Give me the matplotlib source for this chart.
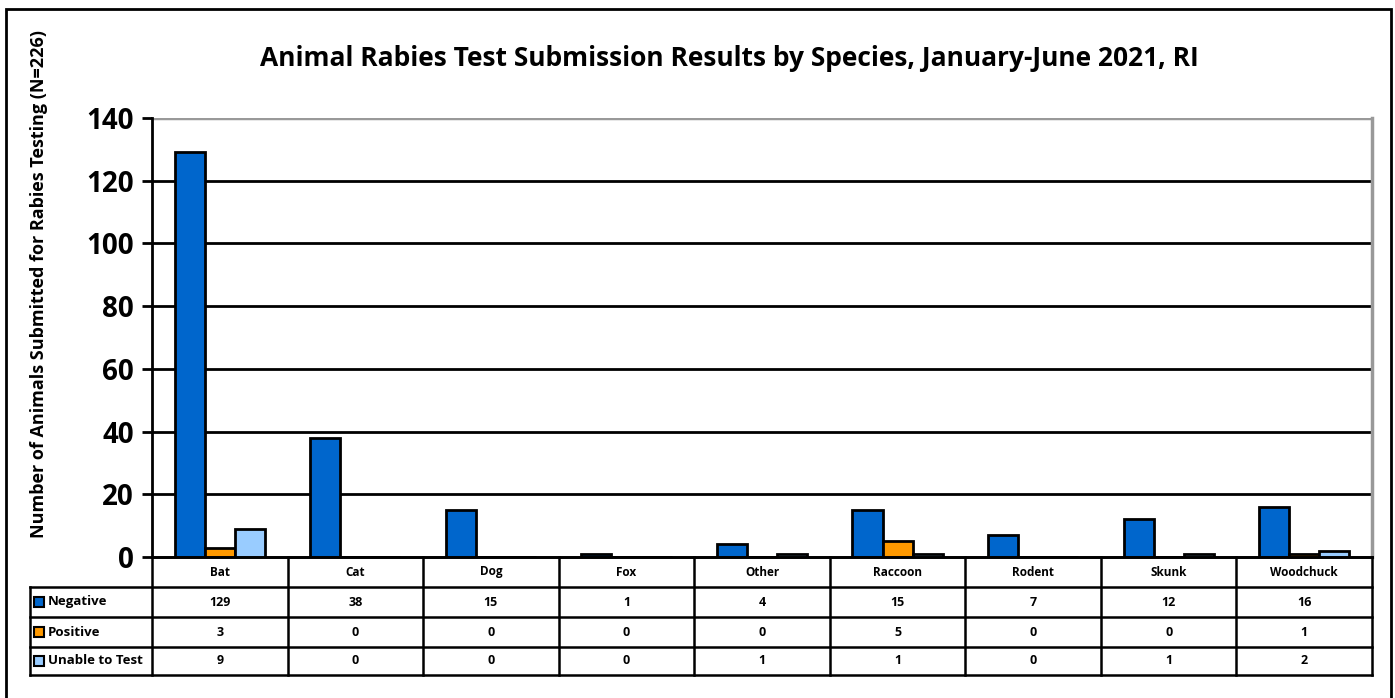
import numpy as np
import matplotlib.pyplot as plt
from matplotlib.lines import Line2D
from matplotlib.patches import Rectangle
import matplotlib.transforms as mtransforms

plt.rcParams['font.family'] = ['Open Sans', 'DejaVu Sans']

species = ['Bat', 'Cat', 'Dog', 'Fox', 'Other', 'Raccoon', 'Rodent', 'Skunk', 'Woodchuck']
negative = [129, 38, 15, 1, 4, 15, 7, 12, 16]
positive = [3, 0, 0, 0, 0, 5, 0, 0, 1]
unable = [9, 0, 0, 0, 1, 1, 0, 1, 2]

series_names = ['Negative', 'Positive', 'Unable to Test']
series_vals = [negative, positive, unable]
colors = ['#0066CC', '#FF9900', '#99CCFF']

W, H = 1395, 698
fig = plt.figure(figsize=(W / 100, H / 100), dpi=100)

# plot area in pixels
L, R, T, B = 152, 1372, 118, 557
ax = fig.add_axes([L / W, 1 - B / H, (R - L) / W, (B - T) / H])

x = np.arange(len(species))
bw = 0.222
for i, (vals, c) in enumerate(zip(series_vals, colors)):
    ax.bar(x + (i - 1) * bw, vals, width=bw, color=c, edgecolor='black', linewidth=2, zorder=3)

ax.set_xlim(-0.5, len(species) - 0.5)
ax.set_ylim(0, 140)
ax.set_yticks(range(0, 141, 20))
ax.set_xticks([])
for y in range(20, 140, 20):
    ax.axhline(y, color='black', linewidth=2, zorder=1)
ax.axhline(140, color='#999999', linewidth=2.5, zorder=1)
for s in ['top', 'right']:
    ax.spines[s].set_color('#999999')
    ax.spines[s].set_linewidth(2.5)
ax.spines['left'].set_linewidth(2)
ax.spines['bottom'].set_linewidth(2)
ax.spines['top'].set_visible(False)
ax.tick_params(axis='y', length=7, width=2, labelsize=20, pad=6)
for lbl in ax.get_yticklabels():
    lbl.set_fontweight('bold')

ax.set_ylabel('Number of Animals Submitted for Rabies Testing (N=226)', fontsize=13,
              fontweight='bold', labelpad=0)
ax.yaxis.set_label_coords((48 - L) / (R - L), (B - 284) / (B - T), transform=ax.transAxes)

fig.text(729 / W, 1 - 58 / H, 'Animal Rabies Test Submission Results by Species, January-June 2021, RI',
         ha='center', va='center', fontsize=19, fontweight='bold')

# data table below the axis
tr = mtransforms.blended_transform_factory(ax.transData, fig.transFigure)
def fy(py):
    return 1 - py / H

rows_y = [557, 587, 617, 647, 675]
lw = 1.8
for yy in rows_y:
    if yy == 557:
        fig.add_artist(Line2D([-0.5, len(species) - 0.5], [fy(yy), fy(yy)], transform=tr, color='black', lw=lw))
    else:
        fig.add_artist(Line2D([30 / W, R / W], [fy(yy), fy(yy)], transform=fig.transFigure, color='black', lw=lw))
for k in range(len(species) + 1):
    fig.add_artist(Line2D([k - 0.5, k - 0.5], [fy(557), fy(675)], transform=tr, color='black', lw=lw))
fig.add_artist(Line2D([30 / W, 30 / W], [fy(587), fy(675)], transform=fig.transFigure, color='black', lw=lw))

for k, name in enumerate(species):
    fig.text(k, fy(572), name, transform=tr, ha='center', va='center', fontsize=8.5, fontweight='bold')
for r, (name, vals, c) in enumerate(zip(series_names, series_vals, colors)):
    yc = (rows_y[r + 1] + rows_y[r + 2]) / 2
    for k, v in enumerate(vals):
        fig.text(k, fy(yc), str(v), transform=tr, ha='center', va='center', fontsize=9, fontweight='bold')
    fig.add_artist(Rectangle((34 / W, fy(yc + 5)), 10 / W, 10 / H, transform=fig.transFigure,
                             facecolor=c, edgecolor='black', lw=1.5))
    fig.text(48 / W, fy(yc), name, ha='left', va='center', fontsize=9.5, fontweight='bold')

# outer border
fig.add_artist(Rectangle((6 / W, -0.05), (1391 - 6) / W, fy(9) + 0.05, transform=fig.transFigure,
                         fill=False, edgecolor='black', lw=2))

fig.savefig('out.png', dpi=100)
